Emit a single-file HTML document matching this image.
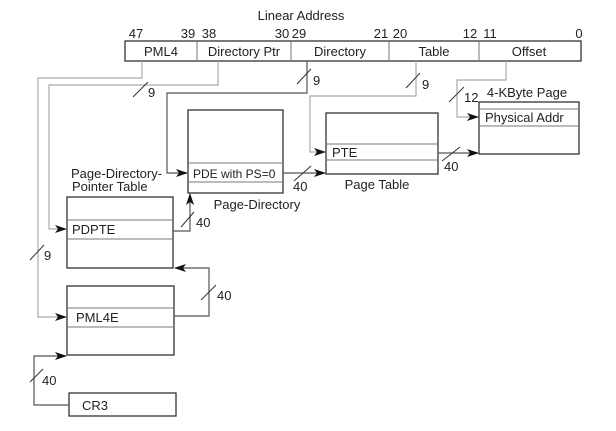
<!DOCTYPE html>
<html><head><style>
html,body{margin:0;padding:0;background:#fff;}
svg{display:block;}
text{font-family:"Liberation Sans",Arial,sans-serif;font-size:13px;fill:#222;}
.b{fill:none;stroke:#333;stroke-width:1.3;}
.r{stroke:#777;stroke-width:1;}
.g{fill:none;stroke:#aaa;stroke-width:1.2;}
.d{fill:none;stroke:#555;stroke-width:1.2;}
.s{stroke:#333;stroke-width:1;}
</style></head><body>
<svg width="616" height="431" viewBox="0 0 616 431">
<defs><marker id="a" markerWidth="12" markerHeight="8" refX="11" refY="4" orient="auto" markerUnits="userSpaceOnUse"><path d="M0,0 L12,4 L0,8 L3,4 Z" fill="#111"/></marker></defs>
<text x="301" y="20" text-anchor="middle">Linear Address</text>
<text x="136" y="38" text-anchor="middle">47</text>
<text x="188" y="38" text-anchor="middle">39</text>
<text x="209" y="38" text-anchor="middle">38</text>
<text x="282" y="38" text-anchor="middle">30</text>
<text x="299" y="38" text-anchor="middle">29</text>
<text x="381" y="38" text-anchor="middle">21</text>
<text x="400" y="38" text-anchor="middle">20</text>
<text x="470" y="38" text-anchor="middle">12</text>
<text x="490" y="38" text-anchor="middle">11</text>
<text x="579" y="38" text-anchor="middle">0</text>
<rect class="b" x="125" y="41" width="456" height="20"/>
<line class="r" x1="197" y1="41" x2="197" y2="61"/><line class="r" x1="291" y1="41" x2="291" y2="61"/><line class="r" x1="389" y1="41" x2="389" y2="61"/><line class="r" x1="479" y1="41" x2="479" y2="61"/>
<text x="161" y="56" text-anchor="middle">PML4</text>
<text x="244" y="56" text-anchor="middle">Directory Ptr</text>
<text x="340" y="56" text-anchor="middle">Directory</text>
<text x="434" y="56" text-anchor="middle">Table</text>
<text x="529" y="56" text-anchor="middle">Offset</text>

<!-- address lines -->
<polyline class="g" points="142,61 142,78 38,78 38,317 66,317" marker-end="url(#a)"/>
<polyline class="g" points="218,61 218,85 49,85 49,229 66,229" marker-end="url(#a)"/>
<polyline class="d" points="307,61 307,93 167,93 167,173 187,173" marker-end="url(#a)"/>
<polyline class="g" points="416,61 416,96 310,96 310,152 325,152" marker-end="url(#a)"/>
<polyline class="g" points="506,61 506,80 457,80 457,117 478,117" marker-end="url(#a)"/>
<line class="s" x1="133" y1="97" x2="148" y2="82"/><text x="148" y="97">9</text>
<line class="s" x1="297" y1="84" x2="311" y2="69"/><text x="313" y="85">9</text>
<line class="s" x1="406" y1="88" x2="420" y2="73"/><text x="422" y="89">9</text>
<line class="s" x1="449" y1="102" x2="464" y2="87"/><text x="464" y="102">12</text>
<line class="s" x1="30" y1="260" x2="44" y2="245"/><text x="44" y="260">9</text>

<!-- Page Directory -->
<rect class="b" x="188" y="110" width="95" height="83"/>
<line class="r" x1="188" y1="163" x2="283" y2="163"/><line class="r" x1="188" y1="182" x2="283" y2="182"/>
<text x="193" y="178" style="font-size:12px">PDE with PS=0</text>
<text x="257" y="209" text-anchor="middle">Page-Directory</text>

<!-- Page Table -->
<rect class="b" x="326" y="113" width="112" height="61"/>
<line class="r" x1="326" y1="144" x2="438" y2="144"/><line class="r" x1="326" y1="160" x2="438" y2="160"/>
<text x="332" y="157">PTE</text>
<text x="377" y="189" text-anchor="middle">Page Table</text>
<polyline class="d" points="283,173 325,173" marker-end="url(#a)"/>
<line class="s" x1="294" y1="181" x2="311" y2="166"/><text x="293" y="191">40</text>

<!-- 4K page -->
<text x="527" y="97" text-anchor="middle">4-KByte Page</text>
<rect class="b" x="479" y="102" width="100" height="52"/>
<line class="r" x1="479" y1="109" x2="579" y2="109"/><line class="r" x1="479" y1="126" x2="579" y2="126"/>
<text x="485" y="122">Physical Addr</text>
<polyline class="d" points="438,153 478,153" marker-end="url(#a)"/>
<line class="s" x1="442" y1="161" x2="460" y2="147"/><text x="444" y="171">40</text>

<!-- PDPT -->
<text x="71" y="178">Page-Directory-</text>
<text x="72" y="191">Pointer Table</text>
<rect class="b" x="67" y="197" width="106" height="71"/>
<line class="r" x1="67" y1="220" x2="173" y2="220"/><line class="r" x1="67" y1="239" x2="173" y2="239"/>
<text x="72" y="234">PDPTE</text>
<polyline class="d" points="173,231 190,231 190,194" marker-end="url(#a)"/>
<line class="s" x1="181" y1="227" x2="194" y2="212"/><text x="196" y="227">40</text>

<!-- PML4 -->
<rect class="b" x="67" y="286" width="107" height="69"/>
<line class="r" x1="67" y1="308" x2="175" y2="308"/><line class="r" x1="67" y1="327" x2="174" y2="327"/>
<text x="76" y="322">PML4E</text>
<polyline class="d" points="174,316 209,316 209,268 175,268" marker-end="url(#a)"/>
<line class="s" x1="201" y1="300" x2="216" y2="285"/><text x="217" y="300">40</text>

<!-- CR3 -->
<rect class="b" x="69" y="393" width="107" height="23"/>
<text x="82" y="410">CR3</text>
<polyline class="d" points="69,405 34,405 34,356 66,356" marker-end="url(#a)"/>
<line class="s" x1="30" y1="382" x2="43" y2="369"/><text x="42" y="385">40</text>
</svg>
</body></html>
